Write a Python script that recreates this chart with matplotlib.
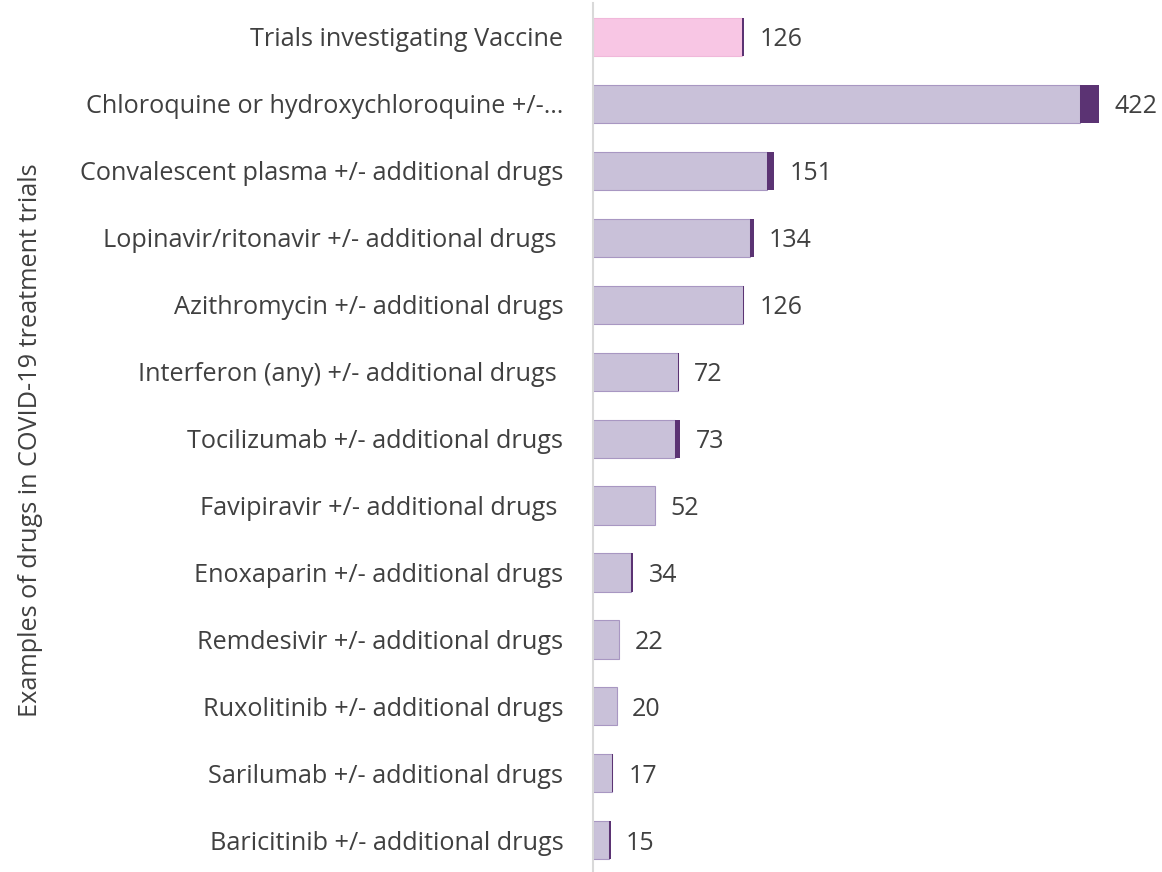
import matplotlib.pyplot as plt
import numpy as np

# Categories, top to bottom
drugs = [
    "Trials investigating Vaccine",
    "Chloroquine or hydroxychloroquine +/-…",
    "Convalescent plasma +/- additional drugs",
    "Lopinavir/ritonavir +/- additional drugs ",
    "Azithromycin +/- additional drugs",
    "Interferon (any) +/- additional drugs ",
    "Tocilizumab +/- additional drugs",
    "Favipiravir +/- additional drugs ",
    "Enoxaparin +/- additional drugs",
    "Remdesivir +/- additional drugs",
    "Ruxolitinib +/- additional drugs",
    "Sarilumab +/- additional drugs",
    "Baricitinib +/- additional drugs",
]
# light segment and dark segment, totals shown as labels
light = [124, 406, 145, 131, 125, 71, 69, 52, 32, 22, 20, 16, 14]
dark = [2, 16, 6, 3, 1, 1, 4, 0, 2, 0, 0, 1, 1]
totals = [126, 422, 151, 134, 126, 72, 73, 52, 34, 22, 20, 17, 15]

plt.rcParams['font.family'] = ['Open Sans', 'DejaVu Sans']
text_color = '#404040'

fig = plt.figure(figsize=(11.62, 8.72), dpi=100)
ax = fig.add_axes([0.51, -0.002, 0.465, 0.998])

y = np.arange(len(drugs))
light_colors = ['#F8C6E4'] + ['#C9C1D9'] * (len(drugs) - 1)
edge_colors = ['#F0B8DA'] + ['#A897C2'] * (len(drugs) - 1)

ax.barh(y, light, height=0.57, color=light_colors, edgecolor=edge_colors, linewidth=0.8)
ax.barh(y, dark, left=light, height=0.57, color='#5B3373', linewidth=0)

#Value labels at the end of each bar
for yi, t in zip(y, totals):
    ax.annotate(str(t), xy=(t, yi), xytext=(11, 0), textcoords='offset points',
                va='center_baseline', ha='left', fontsize=18, color=text_color)

ax.set_yticks(y)
ax.set_yticklabels(drugs, fontsize=18.2, color=text_color, va='center_baseline')
ax.tick_params(axis='y', length=0, pad=21)
ax.set_ylim(len(drugs) - 0.5, -0.5)
ax.set_xlim(0, 450)
ax.set_xticks([])

for side in ['top', 'right', 'bottom']:
    ax.spines[side].set_visible(False)
ax.spines['left'].set_color('#D9D9D9')
ax.spines['left'].set_linewidth(1.5)

fig.text(0.026, 0.495, "Examples of drugs in COVID-19 treatment trials", rotation=90,
         va='center', ha='center', fontsize=18.2, color=text_color)

fig.savefig('out.png', dpi=100)
